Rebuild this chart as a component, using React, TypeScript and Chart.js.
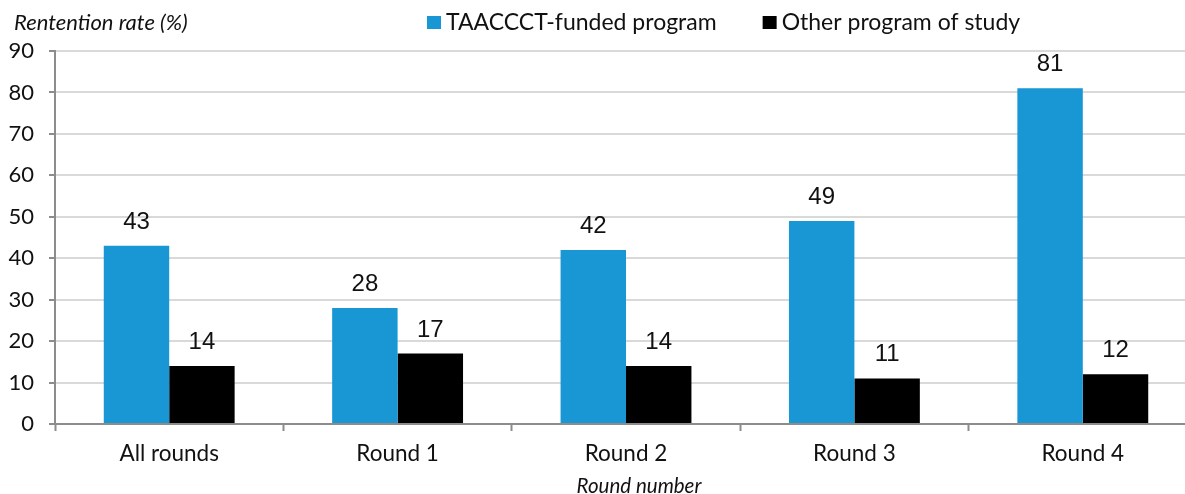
import React, { useEffect, useRef } from 'react';
import { Chart, registerables } from 'chart.js';

Chart.register(...registerables);

const categories = ['All rounds', 'Round 1', 'Round 2', 'Round 3', 'Round 4'];
const taaccctValues = [43, 28, 42, 49, 81];
const otherValues = [14, 17, 14, 11, 12];
const seriesNames = ['TAACCCT-funded program', 'Other program of study'];
const seriesColors = ['#1996d4', '#000000'];
const yTitle = 'Rentention rate (%)';
const xTitle = 'Round number';
const yMin = 0;
const yMax = 90;
const yStep = 10;

const overlayPlugin = {
  id: 'overlay',
  afterDatasetsDraw(chart: any) {
    const ctx = chart.ctx as CanvasRenderingContext2D;
    ctx.save();
    // data labels
    ctx.font = '24px "Liberation Sans", Arial, sans-serif';
    ctx.fillStyle = '#111';
    ctx.textAlign = 'center';
    ctx.textBaseline = 'alphabetic';
    chart.data.datasets.forEach((ds: any, i: number) => {
      const meta = chart.getDatasetMeta(i);
      meta.data.forEach((bar: any, j: number) => {
        ctx.fillText(String(ds.data[j]), bar.x, bar.y - 17);
      });
    });
    // y title
    ctx.font = 'italic 22px Lato';
    ctx.fillStyle = '#111';
    ctx.textAlign = 'left';
    ctx.textBaseline = 'middle';
    ctx.fillText(yTitle, 14, 23);
    // legend
    ctx.font = '23px Lato';
    let x = 427;
    chart.data.datasets.forEach((ds: any) => {
      ctx.fillStyle = ds.backgroundColor;
      ctx.fillRect(x, 16, 14, 13);
      ctx.fillStyle = '#111';
      ctx.textAlign = 'left';
      ctx.textBaseline = 'middle';
      ctx.fillText(ds.label, x + 19, 23);
      x += 19 + ctx.measureText(ds.label).width + 46;
    });
    // x title
    ctx.font = 'italic 20.5px Lato';
    ctx.textAlign = 'center';
    ctx.textBaseline = 'alphabetic';
    ctx.fillText(xTitle, 639, 493);
    ctx.restore();
  },
};

export default function App() {
  const ref = useRef<HTMLCanvasElement>(null);
  useEffect(() => {
    if (!ref.current) return;
    const chart = new Chart(ref.current, {
      type: 'bar',
      data: {
        labels: categories,
        datasets: [
          { label: seriesNames[0], data: taaccctValues, backgroundColor: seriesColors[0] },
          { label: seriesNames[1], data: otherValues, backgroundColor: seriesColors[1] },
        ],
      },
      options: {
        responsive: false,
        animation: false,
        layout: { padding: { top: 51, right: 3, left: 0, bottom: 0 } },
        plugins: { legend: { display: false }, tooltip: { enabled: false } },
        datasets: { bar: { barPercentage: 1, categoryPercentage: 0.573 } },
        scales: {
          x: {
            grid: {
              display: true,
              drawOnChartArea: false,
              offset: true,
              tickLength: 7,
              tickColor: '#8c8c8c',
              tickWidth: 2,
            },
            border: { color: '#8c8c8c', width: 2 },
            ticks: { font: { family: 'Lato', size: 22.5 }, color: '#111', padding: 9 },
            afterFit: (s: any) => {
              s.height = 70;
            },
          },
          y: {
            min: yMin,
            max: yMax,
            ticks: { stepSize: yStep, font: { family: 'Lato', size: 22 }, color: '#111', padding: 15 },
            grid: { color: '#d9d9d9', lineWidth: 2, tickLength: 6, tickColor: '#8c8c8c', tickWidth: 2 },
            border: { color: '#8c8c8c', width: 2 },
            afterFit: (s: any) => {
              s.width = 55;
            },
          },
        },
      } as any,
      plugins: [overlayPlugin],
    });
    return () => chart.destroy();
  }, []);
  return (
    <div style={{ position: 'fixed', left: 0, top: 0, width: 1185, height: 494, overflow: 'hidden', background: '#fff' }}>
      <canvas ref={ref} width={1200} height={494} style={{ display: 'block' }} />
    </div>
  );
}
